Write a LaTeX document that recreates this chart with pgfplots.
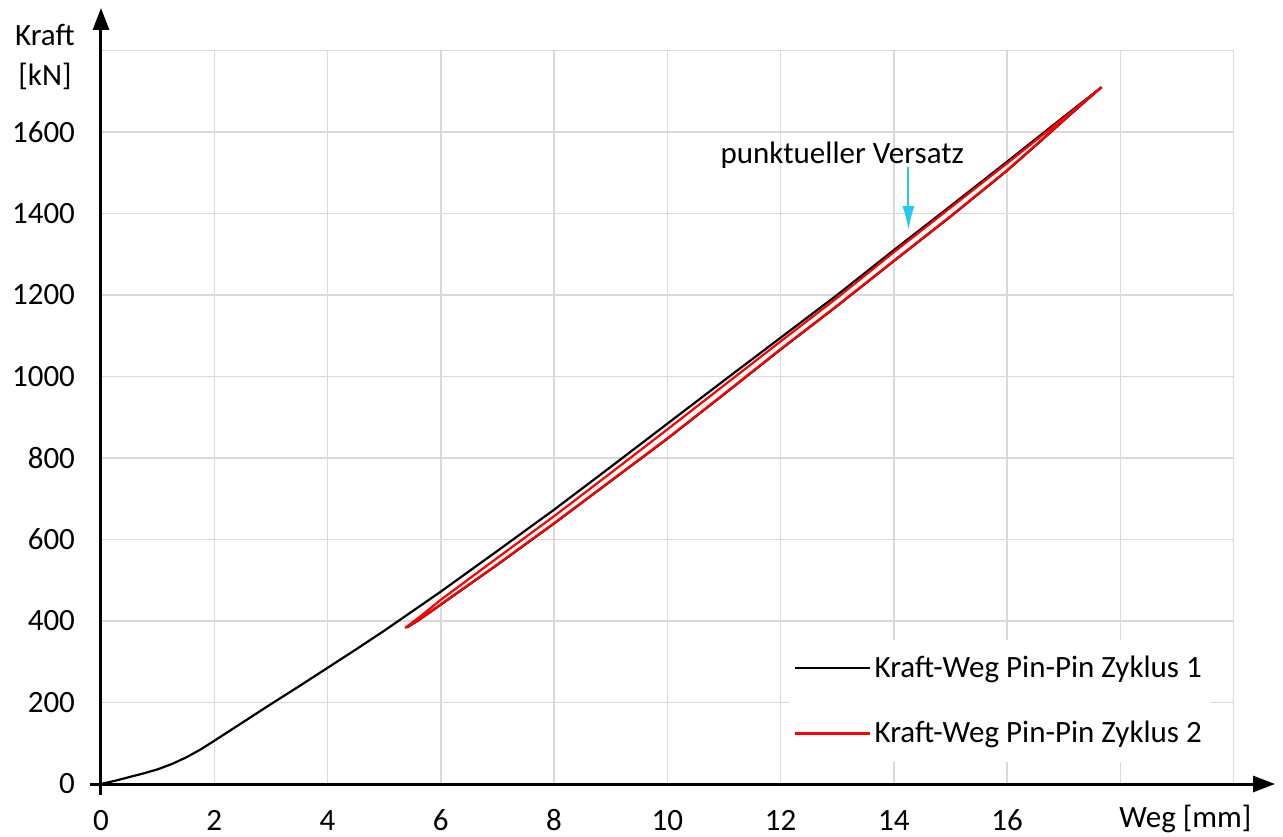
\documentclass[border=0pt]{standalone}
\usepackage{fontspec}
\setmainfont{Carlito}
\usepackage{pgfplots}
\pgfplotsset{compat=1.18}
\usetikzlibrary{arrows.meta}
\definecolor{arrowcyan}{RGB}{36,200,245}
\definecolor{gridgray}{RGB}{217,217,217}
\newcommand{\fsz}{\fontsize{15.5}{18}\selectfont}
\begin{document}
\begin{tikzpicture}
\useasboundingbox (-50.5pt,-26pt) rectangle (591pt,392pt);
\begin{axis}[
  at={(0pt,0pt)}, anchor=south west,
  scale only axis,
  width=566.25pt, height=366.75pt,
  xmin=0, xmax=20, ymin=0, ymax=1800,
  axis lines=left,
  axis line style={line width=1.5pt, -{Triangle[length=11pt,width=8pt]}},
  x axis line style={shorten >=-20.75pt, shorten <=-5.5pt},
  y axis line style={shorten >=-21.25pt, shorten <=-5.5pt},
  major tick length=0pt,
  xtick={0,2,4,6,8,10,12,14,16,18,20},
  xticklabels={0,2,4,6,8,10,12,14,16,{},{}},
  ytick={0,200,400,600,800,1000,1200,1400,1600,1800},
  yticklabels={0,200,400,600,800,1000,1200,1400,1600,{}},
  /pgf/number format/assume math mode=true,
  tick label style={font=\fsz},
  xticklabel style={anchor=base, yshift=-23pt, inner ysep=0pt},
  yticklabel style={xshift=-9.5pt},
  grid=major,
  major grid style={gridgray, line width=0.75pt},
  clip=false,
  xlabel={Weg [mm]},
  xlabel style={font=\fsz, at={(axis cs:19.15,0)}, anchor=base, yshift=-21.5pt, inner sep=0pt},
  ylabel={Kraft\\{[kN]}},
  ylabel style={font=\fontsize{15.5}{20}\selectfont, rotate=-90, align=center, at={(axis cs:-0.99,1784)}, anchor=center},
  legend style={at={(axis cs:12.15,355)}, anchor=north west, draw=none, fill=white,
    font=\fsz, row sep=16.5pt, inner xsep=2pt, inner ysep=6pt,
    nodes={inner xsep=2pt}},
  legend cell align=left,
  legend image code/.code={\draw[#1] (0pt,0pt) -- (37.5pt,0pt);},
]
\addplot[black, line width=1.1pt] coordinates {
(0,0) (0.25,8) (0.5,17) (0.75,26) (1.0,36) (1.25,49) (1.5,65) (1.75,84) (2.0,106)
(2.5,151) (3.0,196) (3.5,240) (4.0,285) (4.5,330) (5.0,376) (5.5,424) (6.0,472)
(7.0,572) (8.0,673) (9.0,778) (10.0,884) (11.0,990) (12.0,1095) (13.0,1200)
(14.0,1310) (15.0,1418) (16.0,1527) (17.0,1637) (17.67,1710)
(17.3,1665) (17.0,1628) (16.5,1566) (16.0,1505) (15.0,1392) (14.0,1283) (13.0,1173)
(12.0,1066) (11.0,956) (10.0,847) (9.0,743) (8.0,639) (7.0,538) (6.0,440)
(5.6,401) (5.4,384)
};
\addlegendentry{Kraft-Weg Pin-Pin Zyklus 1}
\addplot[red, line width=1.1pt] coordinates {
(5.37,383) (5.6,407) (6.0,452) (7.0,555) (8.0,657) (9.0,763) (10.0,870)
(11.0,978) (12.0,1086) (13.0,1193) (14.0,1305) (15.0,1414) (16.0,1523)
(17.0,1634) (17.67,1710)
(17.3,1666) (17.0,1629) (16.5,1567) (16.0,1506) (15.0,1393) (14.0,1284) (13.0,1174) (12.0,1067)
(11.0,957) (10.0,848) (9.0,744) (8.0,640) (7.0,539) (6.0,441) (5.6,402) (5.37,383)
};
\addlegendentry{Kraft-Weg Pin-Pin Zyklus 2}
\node[font=\fsz] at (axis cs:13.09,1543) {punktueller Versatz};
\draw[arrowcyan, line width=1pt, -{Latex[length=12pt,width=6pt]}] (axis cs:14.26,1514) -- (axis cs:14.26,1359);
\end{axis}
\end{tikzpicture}
\end{document}
